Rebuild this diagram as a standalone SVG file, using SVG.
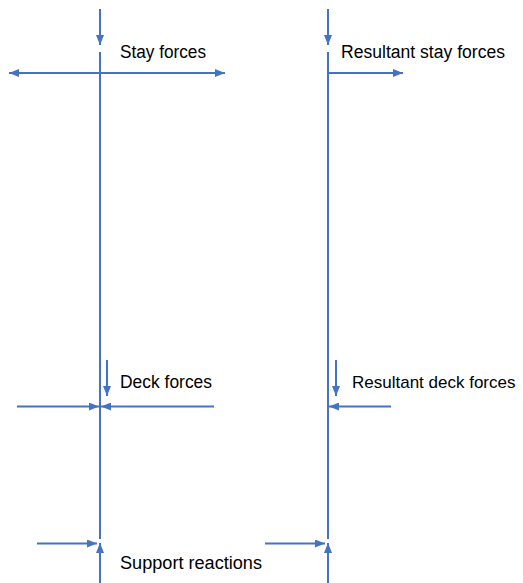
<svg xmlns="http://www.w3.org/2000/svg" width="523" height="583" viewBox="0 0 523 583">
  <style>
    .ln { stroke: #4472C4; stroke-width: 2; fill: none; }
    .arr { stroke: #4472C4; stroke-width: 2; fill: none; marker-end: url(#head); }
    .arr2 { stroke: #4472C4; stroke-width: 2; fill: none; marker-start: url(#tail); marker-end: url(#head); }
    .lbl { font-family: "Liberation Sans", Arial, sans-serif; font-size: 18px; fill: #000; }
  </style>
  <defs>
    <marker id="head" viewBox="0 0 10 8" refX="10" refY="4" markerWidth="10" markerHeight="8" markerUnits="userSpaceOnUse" orient="auto">
      <path d="M0,0 L10,4 L0,8 Z" fill="#4472C4"/>
    </marker>
    <marker id="tail" viewBox="0 0 10 8" refX="0" refY="4" markerWidth="10" markerHeight="8" markerUnits="userSpaceOnUse" orient="auto">
      <path d="M10,0 L0,4 L10,8 Z" fill="#4472C4"/>
    </marker>
  </defs>

  <!-- tower members -->
  <g id="members">
    <line class="ln" x1="100" y1="52" x2="100" y2="539"/>
    <line class="ln" x1="328" y1="52" x2="328" y2="539"/>
  </g>

  <g id="connectors">
    <!-- left tower: stay forces -->
    <line class="arr" x1="100" y1="9" x2="100" y2="45"/>
    <line class="arr2" x1="9" y1="73" x2="225" y2="73"/>
    <!-- left tower: deck forces -->
    <line class="arr" x1="107" y1="360" x2="107" y2="396"/>
    <line class="arr" x1="17" y1="406.5" x2="99" y2="406.5"/>
    <line class="arr" x1="214" y1="406.5" x2="101" y2="406.5"/>
    <!-- left tower: support reactions -->
    <line class="arr" x1="37" y1="543.5" x2="97" y2="543.5"/>
    <line class="arr" x1="100" y1="583" x2="100" y2="543"/>

    <!-- right tower: resultant stay forces -->
    <line class="arr" x1="328" y1="9" x2="328" y2="45"/>
    <line class="arr" x1="328" y1="73" x2="403" y2="73"/>
    <!-- right tower: resultant deck forces -->
    <line class="arr" x1="336" y1="360" x2="336" y2="396"/>
    <line class="arr" x1="391" y1="406.5" x2="329" y2="406.5"/>
    <!-- right tower: support reactions -->
    <line class="arr" x1="265" y1="543.5" x2="325" y2="543.5"/>
    <line class="arr" x1="328" y1="583" x2="328" y2="543"/>
  </g>

  <g id="label-stay">
    <text class="lbl" x="120" y="58" textLength="86" lengthAdjust="spacingAndGlyphs">Stay forces</text>
  </g>
  <g id="label-resultant-stay">
    <text class="lbl" x="341" y="58" textLength="164" lengthAdjust="spacingAndGlyphs">Resultant stay forces</text>
  </g>
  <g id="label-deck">
    <text class="lbl" x="120" y="388" textLength="92" lengthAdjust="spacingAndGlyphs">Deck forces</text>
  </g>
  <g id="label-resultant-deck">
    <text class="lbl" x="352" y="388" style="font-size:17px">Resultant deck forces</text>
  </g>
  <g id="label-support">
    <text class="lbl" x="120" y="569" textLength="142" lengthAdjust="spacingAndGlyphs">Support reactions</text>
  </g>
</svg>
